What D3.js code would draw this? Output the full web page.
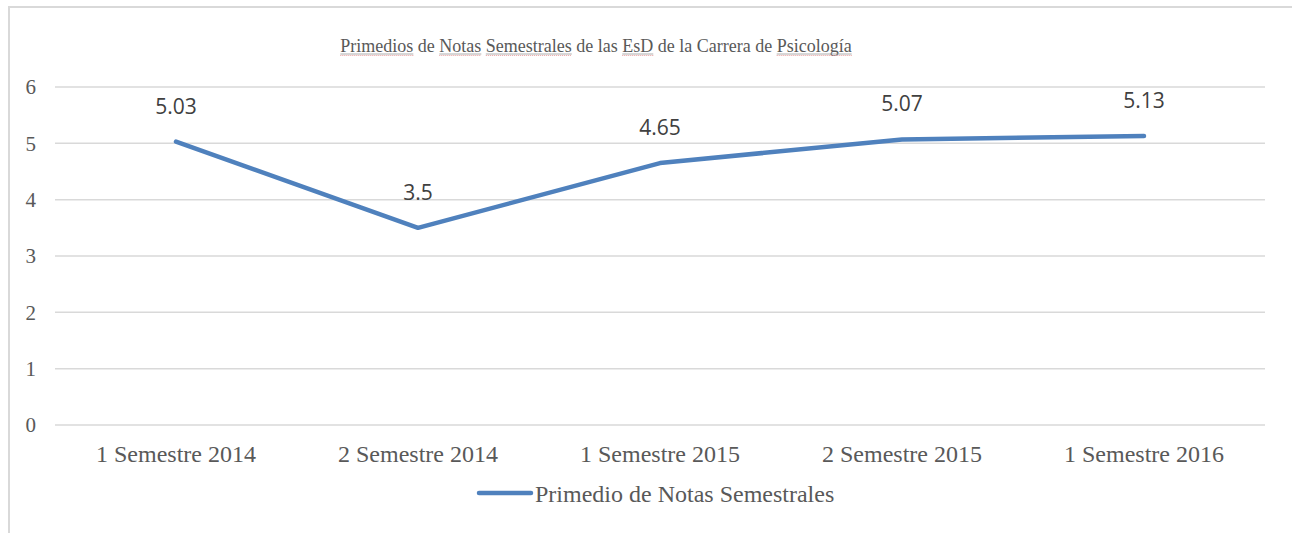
<!DOCTYPE html>
<html>
<head>
<meta charset="utf-8">
<script src="https://cdn.jsdelivr.net/npm/d3@7"></script>
<style>
  body { margin: 0; background: #fff; }
</style>
</head>
<body>
<div id="chart"></div>
<script>
// chart data
var categories = ["1 Semestre 2014", "2 Semestre 2014", "1 Semestre 2015", "2 Semestre 2015", "1 Semestre 2016"];
var promedios = [5.03, 3.5, 4.65, 5.07, 5.13];
var yTicks = [0, 1, 2, 3, 4, 5, 6];
var titleWords = ["Primedios", "de", "Notas", "Semestrales", "de", "las", "EsD", "de", "la", "Carrera", "de", "Psicología"];
var flaggedWords = ["Primedios", "Notas", "Semestrales", "EsD", "Psicología"];
var seriesName = "Primedio de Notas Semestrales";

function init() {
    var w = 1292;
    var h = 533;
    var margin = { top: 87, right: 27, bottom: 108, left: 55 };
    var serif = "'Liberation Serif', 'Times New Roman', serif";
    var textColor = "#595959";
    var lineColor = "#4f81bd";

    var svg = d3.select("#chart")
        .append("svg")
        .attr("width", w)
        .attr("height", h);

    // chart area frame (only top and left edges are visible)
    svg.append("path")
        .attr("d", "M9,533 V7 H1292")
        .attr("fill", "none")
        .attr("stroke", "#d9d9d9")
        .attr("stroke-width", 2);

    var x = d3.scaleBand()
        .domain(categories)
        .range([margin.left, w - margin.right]);

    var y = d3.scaleLinear()
        .domain([0, 6])
        .range([h - margin.bottom, margin.top]);

    // gridlines
    svg.append("g")
        .selectAll("line")
        .data(yTicks)
        .enter()
        .append("line")
        .attr("x1", margin.left)
        .attr("x2", w - margin.right)
        .attr("y1", function (d) { return y(d); })
        .attr("y2", function (d) { return y(d); })
        .attr("stroke", "#d9d9d9")
        .attr("stroke-width", 1.5);

    // y axis labels
    var yAxis = d3.axisLeft(y)
        .tickValues(yTicks)
        .tickFormat(d3.format("d"))
        .tickSize(0)
        .tickPadding(0);
    var gy = svg.append("g")
        .attr("transform", "translate(36,0)")
        .attr("font-family", serif)
        .call(yAxis);
    gy.select(".domain").remove();
    gy.selectAll("text")
        .attr("font-family", serif)
        .attr("font-size", 21)
        .attr("fill", textColor);

    // x axis labels
    var xAxis = d3.axisBottom(x).tickSize(0).tickPadding(0);
    var gx = svg.append("g")
        .attr("transform", "translate(0," + (h - margin.bottom) + ")")
        .attr("font-family", serif)
        .call(xAxis);
    gx.select(".domain").remove();
    gx.selectAll("text")
        .attr("dy", null)
        .attr("y", 37)
        .attr("font-family", serif)
        .attr("font-size", 24)
        .attr("fill", textColor);

    // line
    var line = d3.line()
        .x(function (d, i) { return x(categories[i]) + x.bandwidth() / 2; })
        .y(function (d) { return y(d); });

    svg.append("path")
        .datum(promedios)
        .attr("d", line)
        .attr("fill", "none")
        .attr("stroke", lineColor)
        .attr("stroke-width", 4.5)
        .attr("stroke-linejoin", "round")
        .attr("stroke-linecap", "round");

    // data labels
    svg.append("g")
        .selectAll("text")
        .data(promedios)
        .enter()
        .append("text")
        .attr("x", function (d, i) { return x(categories[i]) + x.bandwidth() / 2; })
        .attr("y", function (d) { return y(d) - 28; })
        .attr("text-anchor", "middle")
        .attr("font-family", "'Open Sans', sans-serif")
        .attr("font-size", 21)
        .attr("fill", "#404040")
        .text(function (d) { return d; });

    // title
    var title = svg.append("text")
        .attr("x", 596)
        .attr("y", 52)
        .attr("text-anchor", "middle")
        .attr("font-family", serif)
        .attr("font-size", 18)
        .attr("fill", textColor)
        .text(titleWords.join(" "));

    // spell-check underlines below flagged words
    var node = title.node();
    var startX = node.getStartPositionOfChar(0).x;
    var pos = 0;
    titleWords.forEach(function (word) {
        if (flaggedWords.indexOf(word) >= 0) {
            var x0 = startX + (pos > 0 ? node.getSubStringLength(0, pos) : 0);
            var len = node.getSubStringLength(pos, word.length);
            svg.append("line")
                .attr("x1", x0)
                .attr("x2", x0 + len)
                .attr("y1", 55.5)
                .attr("y2", 55.5)
                .attr("stroke", "#e8a0a0")
                .attr("stroke-width", 1)
                .attr("stroke-dasharray", "1,1");
            svg.append("line")
                .attr("x1", x0)
                .attr("x2", x0 + len)
                .attr("y1", 54)
                .attr("y2", 54)
                .attr("stroke", "#9a9a9a")
                .attr("stroke-width", 0.8);
        }
        pos += word.length + 1;
    });

    // legend
    var legend = svg.append("g");
    legend.append("line")
        .attr("x1", 479)
        .attr("x2", 531)
        .attr("y1", 493)
        .attr("y2", 493)
        .attr("stroke", lineColor)
        .attr("stroke-width", 4.5)
        .attr("stroke-linecap", "round");
    legend.append("text")
        .attr("x", 535)
        .attr("y", 502)
        .attr("font-family", serif)
        .attr("font-size", 24)
        .attr("fill", textColor)
        .text(seriesName);
}

window.onload = init;
</script>
</body>
</html>
